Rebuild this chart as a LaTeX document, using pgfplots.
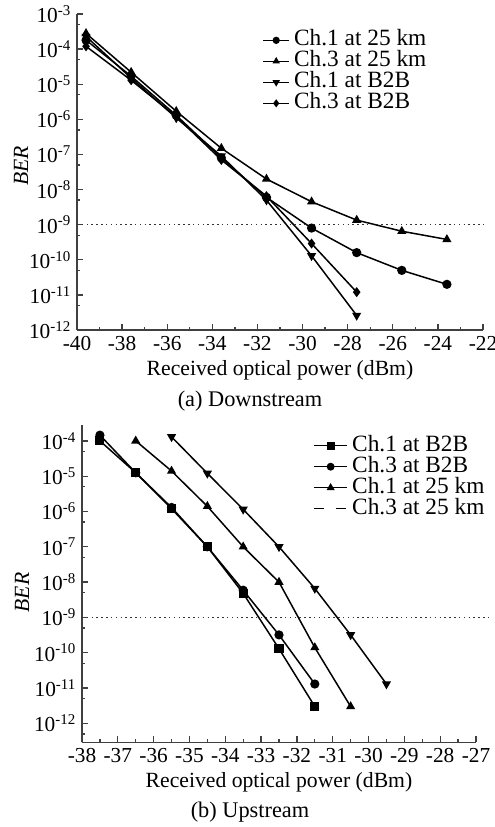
\documentclass[border=0pt]{standalone}
\usepackage{fontspec}
\setmainfont{Liberation Serif}
\usepackage{pgfplots}
\pgfplotsset{compat=1.18}

\pgfplotsset{
  every axis/.append style={
    scale only axis,
    axis lines=left,
    axis line style={-, line width=1pt, black!75},
    tick align=inside,
    major tick length=3.6pt, minor tick length=2pt,
    tick style={line width=0.8pt, black!75},
    tick label style={font=\fontsize{12.8}{15}\selectfont},
    label style={font=\fontsize{13}{15}\selectfont},
    xlabel style={yshift=1pt},
    legend style={draw=none, fill=none, font=\fontsize{14}{16}\selectfont,
      row sep=0pt, column sep=2.5pt, inner sep=0pt,
      nodes={inner sep=0pt, text height=9.5pt, text depth=3.1pt}},
    legend cell align=left,
    clip=false,
  },
  every axis plot/.append style={line width=0.9pt, black, mark size=2.3pt},
  /pgf/number format/assume math mode=true,
}

\begin{document}
\begin{tikzpicture}[font=\fontsize{13.4}{15}\selectfont]
  \useasboundingbox (0,0) rectangle (297pt,-496.2pt);

  % (a) Downstream
  \begin{axis}[
      ymode=log,
      at={(46.2pt,-198pt)}, anchor=south west,
      width=243.6pt, height=189.6pt,
      xlabel={Received optical power (dBm)},
      ylabel={\textit{BER}},
      ylabel style={at={(axis description cs:-0.138,0.52)}, anchor=center},
      xmin=-40, xmax=-22, ymin=1e-12, ymax=1e-3,
      xtick={-40,-38,...,-22}, minor xtick={-39,-37,...,-23},
      ytick={1e-12,1e-11,1e-10,1e-9,1e-8,1e-7,1e-6,1e-5,1e-4,1e-3},
      yticklabels={10\textsuperscript{-12},10\textsuperscript{-11},10\textsuperscript{-10},10\textsuperscript{-9},10\textsuperscript{-8},10\textsuperscript{-7},10\textsuperscript{-6},10\textsuperscript{-5},10\textsuperscript{-4},10\textsuperscript{-3}},
      minor ytick={5e-12,5e-11,5e-10,5e-9,5e-8,5e-7,5e-6,5e-5,5e-4},
      legend style={at={(0.456,0.951)}, anchor=north west},
      legend image code/.code={
        \draw[mark repeat=2, mark phase=2, mark size=1.7pt] plot coordinates {(0pt,0pt) (7.8pt,0pt) (15.6pt,0pt)};},
    ]
    \addplot[mark=*] coordinates {
      (-39.6,1.8e-4) (-37.6,1.7e-5) (-35.6,1.3e-6) (-33.6,8e-8) (-31.6,6e-9)
      (-29.6,8e-10) (-27.6,1.6e-10) (-25.6,5e-11) (-23.6,2e-11)
    };
    \addlegendentry{Ch.1 at 25 km}
    \addplot[mark=triangle*] coordinates {
      (-39.6,2.8e-4) (-37.6,2.2e-5) (-35.6,1.7e-6) (-33.6,1.5e-7) (-31.6,2e-8)
      (-29.6,4.5e-9) (-27.6,1.35e-9) (-25.6,6.5e-10) (-23.6,3.8e-10)
    };
    \addlegendentry{Ch.3 at 25 km}
    \addplot[mark=triangle*, mark options={rotate=180}] coordinates {
      (-39.6,2.3e-4) (-37.6,1.5e-5) (-35.6,1.1e-6) (-33.6,9e-8) (-31.6,5e-9)
      (-29.6,1.3e-10) (-27.6,2.6e-12)
    };
    \addlegendentry{Ch.1 at B2B}
    \addplot[mark=diamond*] coordinates {
      (-39.6,1.2e-4) (-37.6,1.3e-5) (-35.6,1.2e-6) (-33.6,7e-8) (-31.6,6.5e-9)
      (-29.6,2.9e-10) (-27.6,1.2e-11)
    };
    \addlegendentry{Ch.3 at B2B}
    \addplot[dotted, line width=0.7pt, black!80, forget plot] coordinates {(-40,1e-9) (-21.8,1e-9)};
  \end{axis}

  % (b) Upstream
  \begin{axis}[
      ymode=log,
      at={(49.2pt,-445.4pt)}, anchor=south west,
      width=236.4pt, height=190.2pt,
      xlabel={Received optical power (dBm)},
      ylabel={\textit{BER}},
      ylabel style={at={(axis description cs:-0.152,0.473)}, anchor=center},
      xmin=-38, xmax=-27, ymin=2.9e-13, ymax=2.75e-4,
      xtick={-38,-37,...,-27}, minor xtick={-37.5,-36.5,...,-27.5},
      ytick={1e-12,1e-11,1e-10,1e-9,1e-8,1e-7,1e-6,1e-5,1e-4},
      yticklabels={10\textsuperscript{-12},10\textsuperscript{-11},10\textsuperscript{-10},10\textsuperscript{-9},10\textsuperscript{-8},10\textsuperscript{-7},10\textsuperscript{-6},10\textsuperscript{-5},10\textsuperscript{-4}},
      minor ytick={5e-13,5e-12,5e-11,5e-10,5e-9,5e-8,5e-7,5e-6,5e-5},
      legend style={at={(0.586,0.97)}, anchor=north west},
      legend image code/.code={
        \draw[mark repeat=2, mark phase=2, mark size=1.9pt] plot coordinates {(0pt,0pt) (10pt,0pt) (20pt,0pt)};},
    ]
    \addplot[mark=square*] coordinates {
      (-37.5,1e-4) (-36.5,1.25e-5) (-35.5,1.2e-6) (-34.5,1e-7) (-33.5,4.8e-9)
      (-32.5,1.3e-10) (-31.5,3e-12)
    };
    \addlegendentry{Ch.1 at B2B}
    \addplot[mark=*] coordinates {
      (-37.5,1.45e-4) (-36.5,1.25e-5) (-35.5,1.3e-6) (-34.5,1e-7) (-33.5,5.9e-9)
      (-32.5,3.2e-10) (-31.5,1.3e-11)
    };
    \addlegendentry{Ch.3 at B2B}
    \addplot[mark=triangle*] coordinates {
      (-36.5,1e-4) (-35.5,1.4e-5) (-34.5,1.4e-6) (-33.5,1e-7) (-32.5,1e-8)
      (-31.5,1.4e-10) (-30.5,3e-12)
    };
    \addlegendentry{Ch.1 at 25 km}
    \addplot[mark=triangle*, mark options={rotate=180},
      legend image code/.code={\draw[dash pattern=on 6pt off 7pt] (0pt,0pt) -- (20pt,0pt);}]
      coordinates {
      (-35.5,1.3e-4) (-34.5,1.2e-5) (-33.5,1.15e-6) (-32.5,1e-7) (-31.5,6.6e-9)
      (-30.5,3.2e-10) (-29.5,1.3e-11)
    };
    \addlegendentry{Ch.3 at 25 km}
    \addplot[dotted, line width=0.7pt, black!80, forget plot] coordinates {(-38,1e-9) (-26.55,1e-9)};
  \end{axis}

  \node at (150pt,-240.6pt) {(a) Downstream};
  \node at (150pt,-487.2pt) {(b) Upstream};
\end{tikzpicture}
\end{document}
